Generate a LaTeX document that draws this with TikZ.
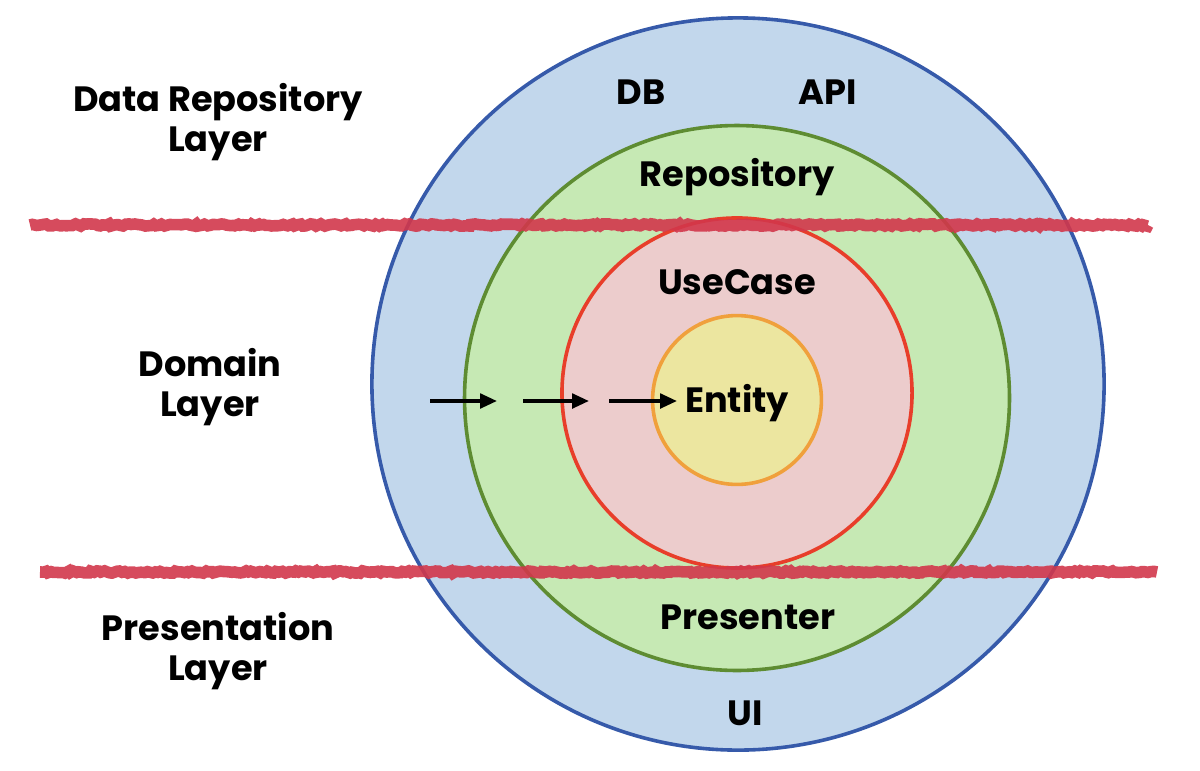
\documentclass[tikz,border=0pt]{standalone}
\usepackage{fontspec}
\setmainfont{Poppins}
\usetikzlibrary{arrows.meta,decorations.pathmorphing}

\definecolor{ringblue}{RGB}{194,215,236}
\definecolor{edgeblue}{RGB}{54,90,170}
\definecolor{ringgreen}{RGB}{198,233,180}
\definecolor{edgegreen}{RGB}{94,140,50}
\definecolor{ringred}{RGB}{236,204,204}
\definecolor{edgered}{RGB}{232,62,42}
\definecolor{ringyellow}{RGB}{236,230,160}
\definecolor{edgeyellow}{RGB}{240,160,60}
\definecolor{cutred}{RGB}{210,55,75}

\tikzset{
  ring/.style={circle, draw, line width=0.09cm, inner sep=0pt},
  lbl/.style={font=\fontsize{25}{30}\selectfont\bfseries, align=center, inner sep=0pt},
  flow/.style={line width=0.09cm, -{Triangle[length=0.42cm, width=0.36cm]}},
  cut/.style={cutred, line width=0.29cm, opacity=0.9,
    decoration={random steps, segment length=2pt, amplitude=0.8pt}, decorate}
}

\begin{document}
\begin{tikzpicture}[x=0.025cm, y=-0.025cm]
  \useasboundingbox (0,0) rectangle (1200,770);

  % rings
  \node[ring, draw=edgeblue, fill=ringblue, minimum size=18.3cm] (data) at (738,384) {};
  \node[ring, draw=edgegreen, fill=ringgreen, minimum size=13.62cm] (adapter) at (737,398) {};
  \node[ring, draw=edgered, fill=ringred, minimum size=8.75cm] (usecase) at (737,393) {};
  \node[ring, draw=edgeyellow, fill=ringyellow, minimum size=4.22cm] (core) at (737,400) {};

  % ring texts
  \node[lbl] (db) at (641,92) {DB};
  \node[lbl] (api) at (828,92) {API};
  \node[lbl] (repo) at (737,177) {Repository};
  \node[lbl] (uc) at (737,282) {UseCase};
  \node[lbl] (entity) at (737,403) {Entity};
  \node[lbl] (presenter) at (748,617) {Presenter};
  \node[lbl] (ui) at (745,713) {UI};

  % layer names
  \node[lbl] (datalayer) at (218,122) {Data Repository\\[-2pt]Layer};
  \node[lbl] (domainlayer) at (210,387) {Domain\\[-2pt]Layer};
  \node[lbl] (presentlayer) at (218,651) {Presentation\\[-2pt]Layer};

  % layer boundaries
  \coordinate (cutAa) at (30,225);
  \coordinate (cutAb) at (1148,225);
  \coordinate (cutBa) at (40,572);
  \coordinate (cutBb) at (1157,572);
  \draw[cut] (cutAa) -- (cutAb);
  \draw[cut] (cutBa) -- (cutBb);

  % dependency arrows
  \coordinate (a1) at (430,401);
  \coordinate (b1) at (497,401);
  \coordinate (a2) at (523,401);
  \coordinate (b2) at (589,401);
  \coordinate (a3) at (609,401);
  \coordinate (b3) at (677,401);
  \draw[flow] (a1) -- (b1);
  \draw[flow] (a2) -- (b2);
  \draw[flow] (a3) -- (b3);
\end{tikzpicture}
\end{document}
